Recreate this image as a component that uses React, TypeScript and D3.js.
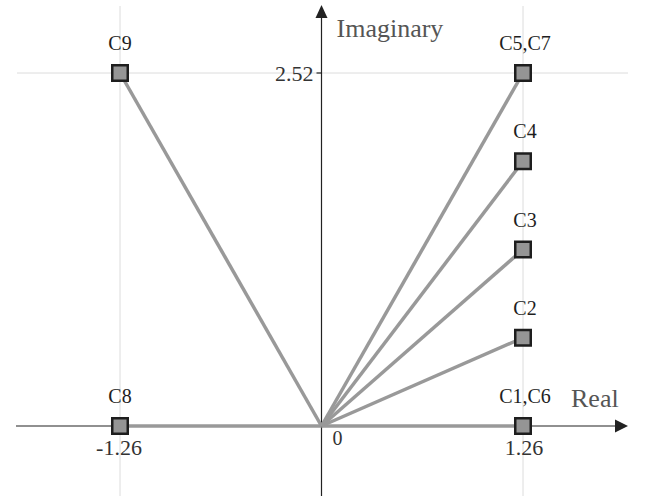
import React from "react";
import * as d3 from "d3";

const labels = ["C1,C6", "C2", "C3", "C4", "C5,C7", "C8", "C9"];
const realParts = [1.26, 1.26, 1.26, 1.26, 1.26, -1.26, -1.26];
const imagParts = [0, 0.63, 1.26, 1.89, 2.52, 0, 2.52];
const xTicks = [-1.26, 1.26];
const yTicks = [2.52];

const W = 646;
const H = 498;
const FONT = "'Liberation Serif', 'Times New Roman', serif";

export default function App() {
  const x = d3.scaleLinear().domain([-1.26, 1.26]).range([120, 523]);
  const y = d3.scaleLinear().domain([0, 2.52]).range([426, 73]);
  const x0 = x(0);
  const y0 = y(0);
  const left = 16, right = 628, top = 6, bottom = 496;
  const pts = labels.map((l, i) => ({ l, re: realParts[i], im: imagParts[i] }));
  const line = d3.line<[number, number]>().x(d => d[0]).y(d => d[1]);
  const ms = 15.5;
  return (
    <svg width={W} height={H} style={{ position: "absolute", left: 0, top: 0 }} fontFamily={FONT}>
      {/* grid */}
      {xTicks.map(t => (
        <line key={"gx" + t} x1={x(t)} x2={x(t)} y1={top} y2={bottom} stroke="#dcdcdc" strokeWidth={1} />
      ))}
      {yTicks.map(t => (
        <line key={"gy" + t} x1={left + 1} x2={right} y1={y(t)} y2={y(t)} stroke="#dcdcdc" strokeWidth={1} />
      ))}
      {/* axes */}
      <line x1={left} x2={right - 12} y1={y0} y2={y0} stroke="#222" strokeWidth={1.2} />
      <path d={`M${right},${y0} L${right - 13},${y0 - 6.5} L${right - 13},${y0 + 6.5} Z`} fill="#222" />
      <line x1={x0} x2={x0} y1={bottom} y2={top + 12} stroke="#222" strokeWidth={1.2} />
      <path d={`M${x0},${top - 1} L${x0 - 6},${top + 12} L${x0 + 6},${top + 12} Z`} fill="#222" />
      {yTicks.map(t => (
        <g key={"ty" + t}>
          <line x1={x0 - 5} x2={x0} y1={y(t)} y2={y(t)} stroke="#222" strokeWidth={1.2} />
          <text x={x0 - 8} y={y(t) + 8} textAnchor="end" fontSize={22} fill="#333">{t.toFixed(2)}</text>
        </g>
      ))}
      {xTicks.map(t => (
        <text key={"tx" + t} x={x(t) + (t > 0 ? 1 : -1)} y={y0 + 29} textAnchor="middle" fontSize={22} fill="#333">
          {t.toFixed(2)}
        </text>
      ))}
      <text x={x0 + 11} y={y0 + 19} fontSize={20} fill="#333">0</text>
      <text x={x0 + 15} y={37} fontSize={26} fill="#555">Imaginary</text>
      <text x={571} y={407} fontSize={26} fill="#555">Real</text>
      {/* vectors */}
      {pts.map(p => (
        <path key={"l" + p.l} d={line([[x0, y0], [x(p.re), y(p.im)]]) || ""} stroke="#999" strokeWidth={3.5} fill="none" />
      ))}
      {pts.map(p => (
        <g key={"m" + p.l}>
          <rect x={x(p.re) - ms / 2} y={y(p.im) - ms / 2} width={ms} height={ms} fill="#959595" stroke="#1e1e1e" strokeWidth={2.5} />
          <text x={x(p.re) + (p.re > 0 ? 2 : 0)} y={y(p.im) - 23} textAnchor="middle" fontSize={20} fill="#1e1e1e">{p.l}</text>
        </g>
      ))}
    </svg>
  );
}
